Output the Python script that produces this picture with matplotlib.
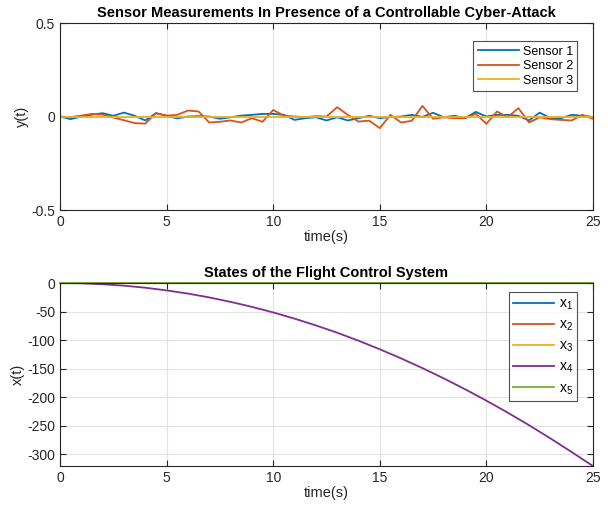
import numpy as np
import matplotlib
matplotlib.use('Agg')
import matplotlib.pyplot as plt

plt.rcParams['font.family'] = ['Liberation Sans', 'DejaVu Sans']
plt.rcParams['mathtext.default'] = 'regular'
plt.rcParams['axes.unicode_minus'] = False

# sensor readings, sampled every 0.5 s
t_sensor = [i * 0.5 for i in range(51)]
sensor1 = [0.0, -0.014, 0.0, 0.01, 0.018, 0.004, 0.021, 0.004, -0.021, 0.018,
           0.004, -0.01, 0.0, 0.002, 0.0, -0.012, -0.004, 0.005, 0.009, 0.014,
           0.014, 0.009, -0.018, -0.009, -0.004, -0.021, -0.004, -0.021, -0.009, 0.004,
           -0.009, -0.002, 0.0, 0.009, -0.002, 0.02, -0.004, 0.004, -0.009, 0.025,
           0.0, 0.009, 0.009, 0.004, -0.021, 0.021, -0.009, -0.009, 0.009, 0.004,
           -0.002]
sensor2 = [0.0, -0.003, 0.005, 0.014, 0.01, -0.005, -0.02, -0.035, -0.038, 0.018,
           0.005, 0.009, 0.032, 0.027, -0.032, -0.028, -0.021, -0.032, -0.009, -0.028,
           0.035, 0.005, 0.0, -0.003, 0.002, 0.0, 0.05, 0.009, -0.027, -0.022,
           -0.062, 0.009, -0.032, -0.023, 0.057, -0.012, -0.004, -0.009, -0.009, 0.015,
           -0.039, 0.027, -0.004, 0.045, -0.032, -0.004, -0.014, -0.018, -0.021, 0.009,
           -0.012]
sensor3 = [0.0] * 51

# flight control states, every 1 s
t_state = list(range(26))
x4 = [0, -0.5, -2.1, -4.6, -8.2, -12.9, -18.5, -25.2, -33.0, -41.7,
      -51.5, -62.3, -74.2, -87.0, -101.0, -116.0, -132.0, -149.0, -167.0, -186.0,
      -206.0, -227.0, -249.0, -272.0, -296.0, -320.5]
x_zero = [0.0] * 26

colors = ['#0072BD', '#D95319', '#EDB120', '#7E2F8E', '#77AC30']
axis_color = '#262626'


def style_axes(ax):
    ax.grid(True, color='#e3e3e3', linewidth=0.8)
    ax.set_axisbelow(True)
    ax.tick_params(direction='in', top=True, right=True, labelsize=10,
                   colors=axis_color, length=4)
    for s in ax.spines.values():
        s.set_color(axis_color)
        s.set_linewidth(0.8)


fig = plt.figure(figsize=(6.08, 5.12), dpi=100)

ax1 = fig.add_axes([0.0987, 0.5898, 0.8766, 0.3652])
ax1.plot(t_sensor, sensor1, color=colors[0], lw=1.3, label='Sensor 1')
ax1.plot(t_sensor, sensor2, color=colors[1], lw=1.3, label='Sensor 2')
ax1.plot(t_sensor, sensor3, color=colors[2], lw=1.3, label='Sensor 3')
ax1.set_xlim(0, 25)
ax1.set_ylim(-0.5, 0.5)
ax1.set_yticks([-0.5, 0, 0.5])
ax1.set_yticklabels(['-0.5', '0', '0.5'])
ax1.set_xticks([0, 5, 10, 15, 20, 25])
ax1.set_xlabel('time(s)', fontsize=10.5, color=axis_color, labelpad=1)
ax1.set_ylabel('y(t)', fontsize=10.5, color=axis_color, labelpad=2)
ax1.set_title('Sensor Measurements In Presence of a Controllable Cyber-Attack',
              fontsize=10.5, fontweight='bold', pad=4)
style_axes(ax1)
leg1 = ax1.legend(loc='upper right', bbox_to_anchor=(0.975, 0.915), fontsize=9,
                  fancybox=False, handlelength=3.3, borderpad=0.35,
                  labelspacing=0.2, handletextpad=0.3, borderaxespad=0.2)
leg1.get_frame().set_edgecolor(axis_color)
leg1.get_frame().set_linewidth(0.8)

ax2 = fig.add_axes([0.0987, 0.0898, 0.8766, 0.3574])
ax2.plot(t_state, x_zero, color=colors[0], lw=1.3, label='x$_1$', clip_on=False)
ax2.plot(t_state, x_zero, color=colors[1], lw=1.3, label='x$_2$', clip_on=False)
ax2.plot(t_state, x_zero, color=colors[2], lw=1.3, label='x$_3$', clip_on=False)
ax2.plot(t_state, x4, color=colors[3], lw=1.3, label='x$_4$')
ax2.plot(t_state, x_zero, color=colors[4], lw=1.3, label='x$_5$', clip_on=False)
ax2.set_xlim(0, 25)
ax2.set_ylim(-320.5, 0)
ax2.set_yticks([0, -50, -100, -150, -200, -250, -300])
ax2.set_xticks([0, 5, 10, 15, 20, 25])
ax2.set_xlabel('time(s)', fontsize=10.5, color=axis_color, labelpad=1)
ax2.set_ylabel('x(t)', fontsize=10.5, color=axis_color, labelpad=2)
ax2.set_title('States of the Flight Control System',
              fontsize=10.5, fontweight='bold', pad=4)
style_axes(ax2)
leg2 = ax2.legend(loc='upper right', bbox_to_anchor=(0.975, 0.965), fontsize=10,
                  fancybox=False, handlelength=3.0, borderpad=0.3,
                  labelspacing=0.42, handletextpad=0.3, borderaxespad=0.2)
leg2.get_frame().set_edgecolor(axis_color)
leg2.get_frame().set_linewidth(0.8)

fig.savefig('out.png', dpi=100)
